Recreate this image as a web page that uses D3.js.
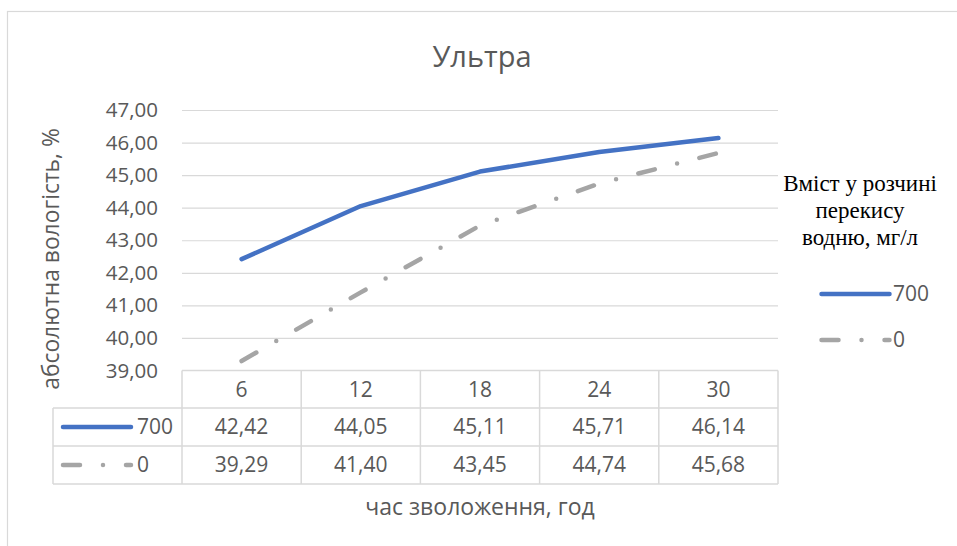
<!DOCTYPE html>
<html>
<head>
<meta charset="utf-8">
<script src="https://cdn.jsdelivr.net/npm/d3@7"></script>
<style>
  html, body { margin: 0; padding: 0; background: #fff; }
  svg { display: block; }
  text { font-family: "Open Sans", "Noto Sans", sans-serif; fill: #595959; }
  .serif { font-family: "Liberation Serif", "Times New Roman", serif; fill: #000; }
</style>
</head>
<body>
<script>
// Hours of moistening (x categories)
const hours = ["6", "12", "18", "24", "30"];
// Series names (hydrogen peroxide content, mg/l)
const seriesNames = ["700", "0"];
// Absolute moisture, %
const values700 = [42.42, 44.05, 45.11, 45.71, 46.14];
const values0 = [39.29, 41.40, 43.45, 44.74, 45.68];
// Y axis ticks
const yTicks = [39, 40, 41, 42, 43, 44, 45, 46, 47];

const W = 957, H = 546;
const svg = d3.select("body").append("svg").attr("width", W).attr("height", H);

const plot = { left: 182, right: 778, top: 110, bottom: 370.5 };
const x = d3.scaleBand().domain(hours).range([plot.left, plot.right]);
const y = d3.scaleLinear().domain([39, 47]).range([plot.bottom, plot.top]);

const fmt = v => d3.format(".2f")(v).replace(".", ",");
const gridColor = "#d9d9d9";

const series = [
  { name: seriesNames[0], values: values700, color: "#4472c4", dash: null },
  { name: seriesNames[1], values: values0, color: "#a5a5a5", dash: "17,23,0,23" }
];

// chart frame
svg.append("rect").attr("x", 7.5).attr("y", 11.5).attr("width", 1200).attr("height", 800)
  .attr("fill", "none").attr("stroke", gridColor).attr("stroke-width", 1.2);

// title
svg.append("text").attr("x", 482).attr("y", 67).attr("text-anchor", "middle")
  .style("font-size", "29px").text("Ультра");

// horizontal gridlines via axis
const yAxis = d3.axisLeft(y).tickValues(yTicks).tickFormat(fmt).tickSize(-(plot.right - plot.left)).tickPadding(24);
const gy = svg.append("g").attr("transform", `translate(${plot.left},0)`).call(yAxis);
gy.select(".domain").remove();
gy.selectAll(".tick line").attr("stroke", gridColor).attr("stroke-width", 1.2)
  .filter(d => d === 39).remove();
gy.selectAll(".tick text").attr("fill", "#595959").style("font-size", "20.5px")
  .style("font-family", "'Open Sans', 'Noto Sans', sans-serif");

// y axis title
svg.append("text").attr("transform", `translate(59,259) rotate(-90)`).attr("text-anchor", "middle")
  .style("font-size", "22.8px").text("абсолютна вологість, %");

// lines
const line = d3.line().x((d, i) => x(hours[i]) + x.bandwidth() / 2).y(d => y(d));
series.forEach(s => {
  svg.append("path").datum(s.values).attr("d", line)
    .attr("fill", "none").attr("stroke", s.color).attr("stroke-width", 4.5)
    .attr("stroke-linecap", "round").attr("stroke-linejoin", "round")
    .attr("stroke-dasharray", s.dash);
});

// data table
const tbl = svg.append("g");
const rowTop = [plot.bottom, 408, 446, 484];
const tableLeft = 53;
const lineStyle = sel => sel.attr("stroke", gridColor).attr("stroke-width", 1.5);
// horizontal rules
tbl.append("line").attr("x1", plot.left).attr("x2", plot.right).attr("y1", rowTop[0]).attr("y2", rowTop[0]).call(lineStyle);
[1, 2, 3].forEach(r => {
  tbl.append("line").attr("x1", tableLeft).attr("x2", plot.right).attr("y1", rowTop[r]).attr("y2", rowTop[r]).call(lineStyle);
});
// vertical rules
tbl.append("line").attr("x1", tableLeft).attr("x2", tableLeft).attr("y1", rowTop[1]).attr("y2", rowTop[3]).call(lineStyle);
hours.forEach(h => {
  tbl.append("line").attr("x1", x(h)).attr("x2", x(h)).attr("y1", rowTop[0]).attr("y2", rowTop[3]).call(lineStyle);
});
tbl.append("line").attr("x1", plot.right).attr("x2", plot.right).attr("y1", rowTop[0]).attr("y2", rowTop[3]).call(lineStyle);

// header categories
hours.forEach(h => {
  tbl.append("text").attr("x", x(h) + x.bandwidth() / 2).attr("y", (rowTop[0] + rowTop[1]) / 2)
    .attr("dy", "0.35em").attr("text-anchor", "middle").style("font-size", "21px").text(h);
});
// series rows
series.forEach((s, i) => {
  const cy = (rowTop[i + 1] + rowTop[i + 2]) / 2;
  tbl.append("line").attr("x1", 63).attr("x2", 131).attr("y1", cy).attr("y2", cy)
    .attr("stroke", s.color).attr("stroke-width", 4.5).attr("stroke-linecap", "round")
    .attr("stroke-dasharray", s.dash);
  tbl.append("text").attr("x", 137).attr("y", cy).attr("dy", "0.35em").attr("text-anchor", "start")
    .style("font-size", "21px").text(s.name);
  s.values.forEach((v, j) => {
    tbl.append("text").attr("x", x(hours[j]) + x.bandwidth() / 2).attr("y", cy).attr("dy", "0.35em")
      .attr("text-anchor", "middle").style("font-size", "21px").text(fmt(v));
  });
});

// x axis title
svg.append("text").attr("x", 480).attr("y", 515).attr("text-anchor", "middle")
  .style("font-size", "23px").text("час зволоження, год");

// legend
const legTitle = ["Вміст у розчині", "перекису", "водню, мг/л"];
legTitle.forEach((t, i) => {
  svg.append("text").attr("class", "serif").attr("x", 860).attr("y", 191 + i * 27)
    .attr("text-anchor", "middle").style("font-size", "23px").text(t);
});
const legY = [294, 340];
series.forEach((s, i) => {
  svg.append("line").attr("x1", 821.5).attr("x2", 889.5).attr("y1", legY[i]).attr("y2", legY[i])
    .attr("stroke", s.color).attr("stroke-width", 4.5).attr("stroke-linecap", "round")
    .attr("stroke-dasharray", s.dash);
  svg.append("text").attr("x", 893).attr("y", legY[i]).attr("dy", "0.35em")
    .style("font-size", "21px").text(s.name);
});
</script>
</body>
</html>
